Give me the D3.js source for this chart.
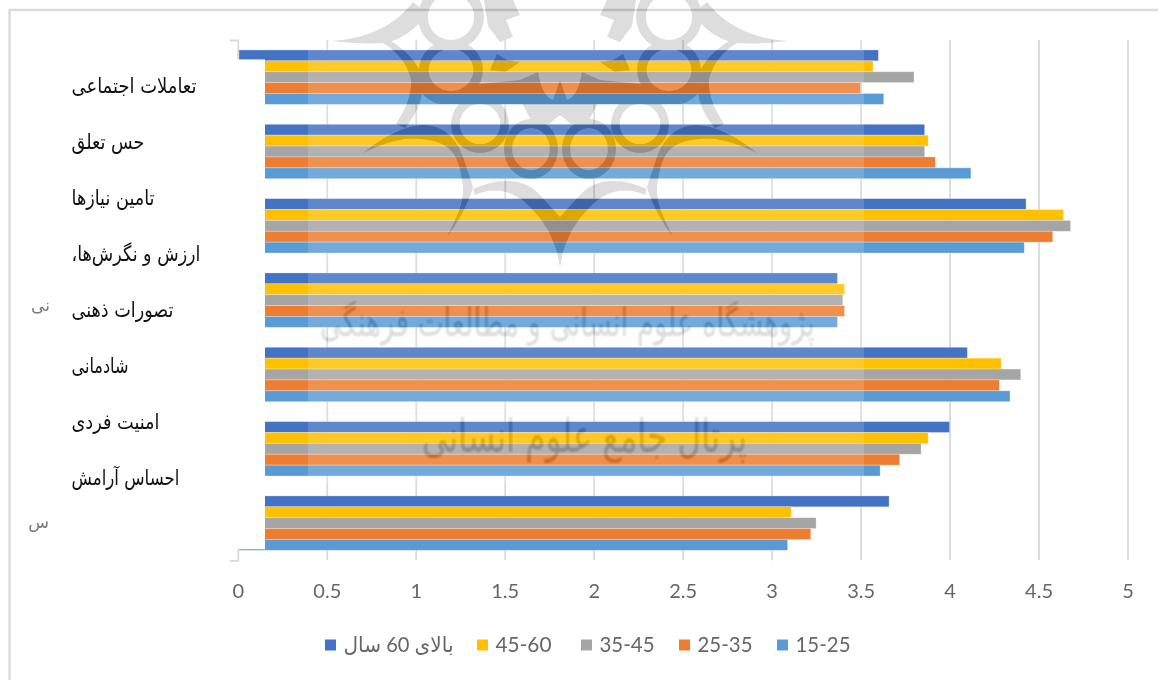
<!DOCTYPE html>
<html lang="fa">
<head>
<meta charset="utf-8">
<script src="https://cdnjs.cloudflare.com/ajax/libs/d3/7.8.5/d3.min.js"></script>
<style>
  html, body { margin: 0; padding: 0; background: #fff; }
  svg { display: block; }
</style>
</head>
<body>
<svg id="chart" width="1158" height="680"></svg>
<script>
// Mean scores by age group, one row per bar cluster, top to bottom.
const groups = ["g1", "g2", "g3", "g4", "g5", "g6", "g7"];
const ageGroups = ["بالای 60 سال", "45-60", "35-45", "25-35", "15-25"];
const over60 = [3.60, 3.86, 4.43, 3.37, 4.10, 4.00, 3.66];
const age45to60 = [3.57, 3.88, 4.64, 3.41, 4.29, 3.88, 3.11];
const age35to45 = [3.80, 3.86, 4.68, 3.40, 4.40, 3.84, 3.25];
const age25to35 = [3.50, 3.92, 4.58, 3.41, 4.28, 3.72, 3.22];
const age15to25 = [3.63, 4.12, 4.42, 3.37, 4.34, 3.61, 3.09];
const seriesValues = [over60, age45to60, age35to45, age25to35, age15to25];
const seriesColors = ["#4472c4", "#ffc000", "#a5a5a5", "#ed7d31", "#5b9bd5"];

// Text box laid over the category axis.
const sideLabels = ["تعاملات اجتماعی", "حس تعلق", "تامین نیازها", "ارزش و نگرش‌ها،", "تصورات ذهنی", "شادمانی", "امنیت فردی", "احساس آرامش"];
const sideWidths = [125, 73, 83, 129, 102, 57, 88, 108];
const xTicks = [0, 0.5, 1, 1.5, 2, 2.5, 3, 3.5, 4, 4.5, 5];

const LOGO_CENTRE = 560;
// Left half of the institute emblem; it is mirrored about LOGO_CENTRE.
const emblemRings = [[451, 17, 33, 33], [451, 70, 32, 30], [480, 124, 29, 29], [531, 149, 27, 30]];
const emblemShapes = [
  "M332,41 C370,38 395,25 413,2 L428,14 C415,30 400,40 385,43 C365,44 350,43 332,41Z",
  "M383,43 L391,41 C405,50 418,62 422,77 C425,98 416,115 405,128 L396,124 C405,110 412,95 411,80 C408,65 398,52 383,43Z",
  "M412,78 L430,88 C445,93 465,92 480,84 L520,80 L538,72 C540,85 545,98 553,100 C556,92 558,85 560,80 L560,104 L440,104 C428,102 418,92 412,78Z",
  "M363,153 C385,135 405,126 423,125 C442,125 456,137 463,157 L473,187 C468,205 458,222 447,237 C455,220 464,205 463,187 C461,170 458,155 447,147 C435,139 420,138 405,139 C390,141 376,147 363,153Z",
  "M473,189 C500,177 525,178 540,195 L560,217 L560,267 C556,240 545,222 530,207 C515,191 495,186 475,195Z",
  "M522,103 L560,103 L560,115 L549,124 L532,122Z",
  "M484,0 L513,0 L520,15 L506,20 L513,37 L500,42 L488,26Z",
  "M497,54 L507,60 L520,62 L505,72 L490,70Z"
];

const svg = d3.select("#chart");
const W = +svg.attr("width"), H = +svg.attr("height");
svg.append("rect").attr("width", W).attr("height", H).attr("fill", "#fff");

// Outer frame: only its top and left edges fall inside the view.
svg.append("path").attr("d", `M9.5,${H} V10 H${W}`).attr("fill", "none")
  .attr("stroke", "#dcdcdc").attr("stroke-width", 2.4);

const x = d3.scaleLinear().domain([0, 5]).range([237.8, 1127.5]);
const y = d3.scaleBand().domain(groups).range([40, 560.3]).paddingInner(0.268).paddingOuter(0.134);
const ySeries = d3.scaleBand().domain(d3.range(ageGroups.length)).range([0, y.bandwidth()]);

// Vertical gridlines.
svg.append("g")
  .attr("transform", "translate(0,560.3)")
  .call(d3.axisBottom(x).tickValues(xTicks.slice(1)).tickSize(-520.3).tickSizeOuter(0).tickFormat(""))
  .call(g => g.select(".domain").remove())
  .call(g => g.selectAll("line").attr("stroke", "#d9d9d9").attr("stroke-width", 1.8));

// Bars.
const barLayer = svg.append("g");
seriesValues.forEach((values, s) => {
  barLayer.selectAll(null).data(values).join("rect")
    .attr("x", x(0))
    .attr("y", (d, i) => y(groups[i]) + ySeries(s))
    .attr("width", d => x(d) - x(0))
    .attr("height", ySeries.bandwidth())
    .attr("fill", seriesColors[s])
    .attr("stroke", "rgba(255,255,255,0.35)")
    .attr("stroke-width", 0.8);
});

// Category axis line with its outer ticks.
svg.append("g")
  .attr("transform", `translate(${x(0)},0)`)
  .call(d3.axisLeft(y).tickValues([]).tickSizeOuter(8))
  .call(g => g.select(".domain").attr("stroke", "#d9d9d9").attr("stroke-width", 1.8));

// Value axis labels.
svg.append("g")
  .attr("transform", "translate(0,598)")
  .call(d3.axisBottom(x).tickValues(xTicks).tickSize(0).tickPadding(0).tickFormat(d3.format("")))
  .call(g => g.select(".domain").remove())
  .call(g => g.selectAll("text")
    .attr("dy", 0).attr("y", 0)
    .attr("fill", "#666").attr("font-family", "Lato, 'Open Sans', sans-serif").attr("font-size", 20));

// White text box hiding the start of the bars, with the category names on it.
svg.append("rect").attr("x", 11).attr("y", 59.4).attr("width", 254).attr("height", 489.8).attr("fill", "#fff");

const labelY = d3.scalePoint().domain(sideLabels).range([87, 479]);
svg.append("g").selectAll("text").data(sideLabels).join("text")
  .attr("x", (d, i) => 71.5 + sideWidths[i])
  .attr("y", d => labelY(d) + 6)
  .attr("direction", "rtl")
  .attr("text-anchor", "start")
  .attr("font-family", "'DejaVu Sans', sans-serif")
  .attr("font-size", 21)
  .attr("fill", "#111")
  .attr("textLength", (d, i) => sideWidths[i])
  .attr("lengthAdjust", "spacingAndGlyphs")
  .text(d => d);

// Clipped remains of the original axis labels at the far left.
const defs = svg.append("defs");
defs.append("clipPath").attr("id", "axisStub")
  .append("rect").attr("x", 20).attr("y", 290).attr("width", 30).attr("height", 250);
const stubs = svg.append("g").attr("clip-path", "url(#axisStub)")
  .attr("font-family", "'DejaVu Sans', sans-serif").attr("fill", "#777");
stubs.append("text").attr("x", 50).attr("y", 311).attr("text-anchor", "end").attr("font-size", 17).text("نی");
stubs.append("text").attr("x", 49).attr("y", 528).attr("text-anchor", "end").attr("font-size", 17).text("س");

// Legend.
const legendRow = svg.append("g").attr("transform", "translate(0,645)");
const legendSwatchX = [325, 477, 581, 679, 777];
const legendWidths = [110, 56, 55, 55, 55];
ageGroups.forEach((name, i) => {
  legendRow.append("rect").attr("x", legendSwatchX[i]).attr("y", -5.5).attr("width", 11).attr("height", 11)
    .attr("fill", seriesColors[i]);
  legendRow.append("text").attr("x", legendSwatchX[i] + 18.5).attr("y", 7)
    .attr("direction", "ltr")
    .attr("font-family", "Lato, 'DejaVu Sans', sans-serif").attr("font-size", 21).attr("fill", "#666")
    .attr("textLength", legendWidths[i]).attr("lengthAdjust", "spacingAndGlyphs")
    .text(name);
});

// Pale veil of the watermark image.
svg.append("rect").attr("x", 308).attr("y", 11).attr("width", 556).attr("height", 474)
  .attr("fill", "#fff").attr("opacity", 0.15);

// Watermark emblem and institute names, subtracted from whatever lies beneath.
defs.append("filter").attr("id", "soft")
  .append("feGaussianBlur").attr("stdDeviation", 0.7);
defs.append("filter").attr("id", "softer")
  .append("feGaussianBlur").attr("stdDeviation", 1);

const emblem = svg.append("g").attr("fill", "#242424")
  .style("mix-blend-mode", "difference").attr("filter", "url(#soft)");
const halves = [`translate(0,0)`, `translate(${2 * LOGO_CENTRE},0) scale(-1,1)`];
const ellipse = (cx, cy, a, b) =>
  `M${cx - a},${cy} A${a},${b} 0 1 0 ${cx + a},${cy} A${a},${b} 0 1 0 ${cx - a},${cy}Z`;
const ringPath = ([cx, cy, rx, ry]) => ellipse(cx, cy, rx, ry) + ellipse(cx, cy, rx * 0.7, ry * 0.7);
halves.forEach(t => {
  const half = emblem.append("g").attr("transform", t);
  half.selectAll("path.ring").data(emblemRings).join("path").attr("class", "ring")
    .attr("fill-rule", "evenodd").attr("d", ringPath);
  half.selectAll("path.shape").data(emblemShapes).join("path").attr("class", "shape").attr("d", d => d);
});

const wordmark = svg.append("g")
  .attr("fill", "#262626")
  .attr("font-family", "'DejaVu Sans', sans-serif")
  .attr("text-anchor", "start")
  .style("mix-blend-mode", "difference")
  .attr("filter", "url(#softer)");
wordmark.append("text").attr("x", 320).attr("y", 336).attr("font-size", 40)
  .attr("textLength", 495).attr("lengthAdjust", "spacingAndGlyphs")
  .text("پژوهشگاه علوم انسانی و مطالعات فرهنگی");
wordmark.append("text").attr("x", 422).attr("y", 452).attr("font-size", 46)
  .attr("textLength", 325).attr("lengthAdjust", "spacingAndGlyphs")
  .text("پرتال جامع علوم انسانی");
</script>
</body>
</html>
